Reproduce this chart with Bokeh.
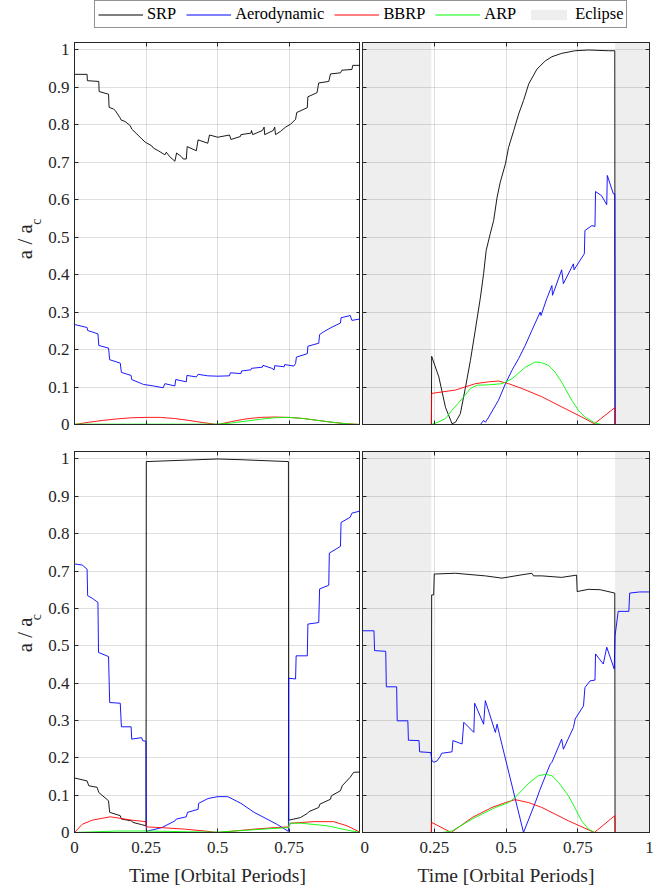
import numpy as np
from bokeh.plotting import figure
from bokeh.models import (Range1d, LinearAxis, FixedTicker, Grid,
                          Legend, LegendItem)
from bokeh.core.properties import value
from bokeh.layouts import column, row
from bokeh.embed import file_html
from bokeh.resources import INLINE

FONT = "Liberation Serif"
INK = "#262626"

# ---- axes ----
Y_TICKS = [0, 0.1, 0.2, 0.3, 0.4, 0.5, 0.6, 0.7, 0.8, 0.9, 1]
Y_TICK_LABELS = ["0", "0.1", "0.2", "0.3", "0.4", "0.5", "0.6", "0.7", "0.8", "0.9", "1"]
X_TICKS = [0, 0.25, 0.5, 0.75, 1]
X_TICK_LABELS = ["0", "0.25", "0.5", "0.75", "1"]
X_TICK_LABELS_LEFT = ["0", "0.25", "0.5", "0.75", ""]
X_LABEL = "Time [Orbital Periods]"
Y_LABEL = "a / a"
Y_LABEL_SUB = "c"

SERIES = ["SRP", "Aerodynamic", "BBRP", "ARP"]
COLORS = ["#000000", "#0000ff", "#ff0000", "#00ff00"]

# eclipse intervals (orbital periods)
ECLIPSE_RIGHT = [[0.0, 0.24], [0.88, 1.0]]

# ---- panel A (top left): [time, a/a_c] ----
A_SRP = [
    [0.000, 0.935], [0.044, 0.935], [0.045, 0.918], [0.085, 0.916], [0.086, 0.889],
    [0.119, 0.882], [0.121, 0.847], [0.137, 0.842], [0.143, 0.838], [0.160, 0.818],
    [0.163, 0.813], [0.177, 0.809], [0.195, 0.798], [0.200, 0.789], [0.247, 0.754],
    [0.270, 0.744], [0.276, 0.738], [0.293, 0.731], [0.316, 0.720], [0.321, 0.727],
    [0.333, 0.715], [0.351, 0.703], [0.357, 0.725], [0.374, 0.715], [0.380, 0.709],
    [0.391, 0.709], [0.394, 0.742], [0.426, 0.731], [0.432, 0.760], [0.466, 0.751],
    [0.472, 0.773], [0.501, 0.767], [0.542, 0.773], [0.547, 0.761], [0.580, 0.769],
    [0.582, 0.774], [0.617, 0.778], [0.619, 0.785], [0.623, 0.774], [0.657, 0.785],
    [0.663, 0.794], [0.665, 0.774], [0.695, 0.785], [0.700, 0.794], [0.703, 0.774],
    [0.721, 0.783], [0.738, 0.794], [0.756, 0.802], [0.773, 0.815], [0.777, 0.833],
    [0.814, 0.846], [0.816, 0.875], [0.848, 0.886], [0.854, 0.912], [0.889, 0.916],
    [0.895, 0.936], [0.930, 0.939], [0.935, 0.946], [0.970, 0.948], [0.973, 0.959],
    [1.000, 0.959],
]
A_AERO = [
    [0.000, 0.267], [0.044, 0.259], [0.046, 0.251], [0.082, 0.242], [0.085, 0.211],
    [0.119, 0.204], [0.123, 0.173], [0.160, 0.164], [0.164, 0.139], [0.198, 0.131],
    [0.200, 0.120], [0.235, 0.109], [0.241, 0.107], [0.276, 0.103], [0.310, 0.098],
    [0.316, 0.109], [0.351, 0.103], [0.354, 0.120], [0.391, 0.114], [0.393, 0.131],
    [0.426, 0.127], [0.432, 0.134], [0.466, 0.130], [0.501, 0.129], [0.542, 0.130],
    [0.545, 0.138], [0.582, 0.136], [0.584, 0.143], [0.617, 0.146], [0.619, 0.150],
    [0.657, 0.153], [0.659, 0.158], [0.690, 0.150], [0.698, 0.146], [0.700, 0.157],
    [0.733, 0.154], [0.735, 0.160], [0.767, 0.156], [0.773, 0.163], [0.776, 0.180],
    [0.814, 0.189], [0.816, 0.209], [0.854, 0.217], [0.857, 0.240], [0.870, 0.247],
    [0.895, 0.258], [0.930, 0.271], [0.932, 0.285], [0.964, 0.291], [0.970, 0.278],
    [1.000, 0.282],
]
A_BBRP = [
    [0.00, 0.000], [0.05, 0.006], [0.10, 0.011], [0.15, 0.015], [0.20, 0.018],
    [0.25, 0.019], [0.30, 0.019], [0.35, 0.016], [0.40, 0.011], [0.45, 0.005],
    [0.50, 0.000], [0.55, 0.008], [0.60, 0.015], [0.65, 0.019], [0.70, 0.020],
    [0.75, 0.019], [0.80, 0.016], [0.85, 0.011], [0.90, 0.006], [0.95, 0.002],
    [1.00, 0.000],
]
A_ARP = [
    [0.00, 0.001], [0.25, 0.001], [0.50, 0.001], [0.55, 0.004], [0.60, 0.009],
    [0.65, 0.014], [0.70, 0.018], [0.75, 0.019], [0.80, 0.016], [0.85, 0.011],
    [0.90, 0.006], [0.95, 0.002], [1.00, 0.000],
]

# ---- panel B (top right) ----
B_SRP = [
    [0.000, 0.000], [0.240, 0.000], [0.241, 0.182], [0.266, 0.127], [0.289, 0.046],
    [0.312, 0.002], [0.324, 0.006], [0.341, 0.029], [0.359, 0.100], [0.376, 0.171],
    [0.393, 0.252], [0.411, 0.340], [0.422, 0.403], [0.431, 0.465], [0.445, 0.509],
    [0.457, 0.545], [0.469, 0.607], [0.480, 0.647], [0.498, 0.696], [0.509, 0.740],
    [0.527, 0.785], [0.544, 0.829], [0.561, 0.865], [0.579, 0.909], [0.608, 0.949],
    [0.637, 0.971], [0.660, 0.982], [0.694, 0.991], [0.741, 0.998], [0.787, 1.000],
    [0.856, 0.998], [0.879, 0.998], [0.880, 0.000], [1.000, 0.000],
]
B_AERO = [
    [0.000, 0.000], [0.411, 0.000], [0.422, 0.011], [0.428, 0.006], [0.440, 0.020],
    [0.474, 0.065], [0.498, 0.109], [0.521, 0.145], [0.544, 0.176], [0.567, 0.211],
    [0.590, 0.251], [0.619, 0.300], [0.622, 0.291], [0.642, 0.336], [0.660, 0.371],
    [0.662, 0.345], [0.694, 0.413], [0.700, 0.376], [0.735, 0.429], [0.737, 0.413],
    [0.773, 0.456], [0.775, 0.518], [0.799, 0.531], [0.810, 0.529], [0.812, 0.622],
    [0.833, 0.611], [0.851, 0.587], [0.853, 0.665], [0.874, 0.616], [0.879, 0.616],
    [0.880, 0.000], [1.000, 0.000],
]
B_BBRP = [
    [0.000, 0.000], [0.240, 0.000], [0.241, 0.083], [0.324, 0.092], [0.393, 0.109],
    [0.440, 0.114], [0.474, 0.116], [0.509, 0.109], [0.556, 0.096], [0.625, 0.074],
    [0.694, 0.047], [0.764, 0.020], [0.808, 0.002], [0.879, 0.045], [0.880, 0.000],
    [1.000, 0.000],
]
B_ARP = [
    [0.000, 0.000], [0.240, 0.000], [0.266, 0.007], [0.289, 0.016], [0.312, 0.038],
    [0.353, 0.074], [0.376, 0.096], [0.399, 0.105], [0.440, 0.106], [0.486, 0.109],
    [0.521, 0.122], [0.567, 0.153], [0.602, 0.167], [0.625, 0.165], [0.648, 0.158],
    [0.671, 0.140], [0.694, 0.113], [0.729, 0.065], [0.752, 0.038], [0.775, 0.020],
    [0.810, 0.004], [0.833, 0.000], [1.000, 0.000],
]

# ---- panel C (bottom left) ----
C_SRP = [
    [0.000, 0.146], [0.044, 0.138], [0.050, 0.125], [0.079, 0.121], [0.085, 0.107],
    [0.119, 0.085], [0.123, 0.054], [0.160, 0.045], [0.164, 0.036], [0.200, 0.031],
    [0.204, 0.027], [0.235, 0.021], [0.250, 0.018], [0.251, 0.993], [0.501, 1.000],
    [0.582, 0.998], [0.748, 0.993], [0.749, 0.033], [0.767, 0.036], [0.790, 0.040],
    [0.814, 0.051], [0.820, 0.056], [0.854, 0.067], [0.858, 0.076], [0.895, 0.089],
    [0.898, 0.098], [0.930, 0.112], [0.936, 0.125], [0.964, 0.148], [0.976, 0.161],
    [1.000, 0.162],
]
C_AERO = [
    [0.000, 0.719], [0.027, 0.716], [0.044, 0.705], [0.046, 0.634], [0.062, 0.627],
    [0.082, 0.616], [0.084, 0.482], [0.119, 0.471], [0.123, 0.348], [0.160, 0.346],
    [0.164, 0.283], [0.198, 0.283], [0.200, 0.250], [0.235, 0.254], [0.238, 0.246],
    [0.250, 0.244], [0.251, 0.003], [0.305, 0.013], [0.351, 0.031], [0.356, 0.036],
    [0.391, 0.042], [0.395, 0.054], [0.432, 0.062], [0.434, 0.078], [0.467, 0.091],
    [0.501, 0.096], [0.536, 0.096], [0.582, 0.078], [0.628, 0.054], [0.663, 0.040],
    [0.710, 0.021], [0.748, 0.003], [0.749, 0.413], [0.773, 0.411], [0.775, 0.473],
    [0.814, 0.473], [0.816, 0.558], [0.854, 0.562], [0.857, 0.652], [0.889, 0.662],
    [0.891, 0.748], [0.930, 0.766], [0.932, 0.830], [0.964, 0.844], [0.970, 0.855],
    [1.000, 0.861],
]
C_BBRP = [
    [0.000, 0.000], [0.027, 0.022], [0.062, 0.033], [0.096, 0.038], [0.125, 0.042],
    [0.160, 0.038], [0.200, 0.033], [0.250, 0.029], [0.251, 0.015], [0.305, 0.013],
    [0.385, 0.009], [0.455, 0.004], [0.501, 0.000], [0.559, 0.004], [0.628, 0.009],
    [0.698, 0.013], [0.748, 0.015], [0.756, 0.025], [0.837, 0.029], [0.906, 0.029],
    [0.953, 0.018], [1.000, 0.000],
]
C_ARP = [
    [0.000, 0.000], [0.150, 0.004], [0.250, 0.004], [0.400, 0.002], [0.501, 0.001],
    [0.600, 0.006], [0.700, 0.011], [0.748, 0.013], [0.752, 0.025], [0.790, 0.025],
    [0.883, 0.018], [0.950, 0.007], [1.000, 0.000],
]

# ---- panel D (bottom right) ----
D_SRP = [
    [0.000, 0.000], [0.240, 0.000], [0.241, 0.636], [0.248, 0.636], [0.250, 0.692],
    [0.324, 0.694], [0.428, 0.687], [0.486, 0.681], [0.556, 0.690], [0.590, 0.694],
    [0.596, 0.687], [0.625, 0.687], [0.694, 0.683], [0.746, 0.689], [0.748, 0.645],
    [0.787, 0.651], [0.828, 0.650], [0.879, 0.641], [0.880, 0.000], [1.000, 0.000],
]
D_AERO = [
    [0.000, 0.540], [0.040, 0.540], [0.042, 0.487], [0.081, 0.485], [0.083, 0.390],
    [0.119, 0.390], [0.121, 0.299], [0.158, 0.299], [0.160, 0.247], [0.197, 0.246],
    [0.199, 0.216], [0.238, 0.214], [0.242, 0.192], [0.249, 0.188], [0.260, 0.192],
    [0.272, 0.205], [0.275, 0.212], [0.312, 0.216], [0.315, 0.246], [0.347, 0.237],
    [0.353, 0.295], [0.388, 0.268], [0.391, 0.346], [0.422, 0.290], [0.428, 0.353],
    [0.463, 0.268], [0.469, 0.290], [0.477, 0.263], [0.561, 0.000], [0.602, 0.080],
    [0.619, 0.116], [0.654, 0.183], [0.660, 0.188], [0.694, 0.250], [0.700, 0.223],
    [0.735, 0.281], [0.741, 0.304], [0.770, 0.339], [0.775, 0.388], [0.793, 0.406],
    [0.810, 0.408], [0.812, 0.478], [0.839, 0.451], [0.851, 0.496], [0.877, 0.438],
    [0.880, 0.527], [0.891, 0.592], [0.928, 0.592], [0.931, 0.641], [0.966, 0.644],
    [1.000, 0.644],
]
D_BBRP = [
    [0.000, 0.000], [0.240, 0.000], [0.241, 0.027], [0.309, 0.000], [0.382, 0.040],
    [0.451, 0.067], [0.498, 0.080], [0.532, 0.088], [0.579, 0.080], [0.625, 0.067],
    [0.718, 0.031], [0.808, 0.000], [0.879, 0.045], [0.880, 0.000], [1.000, 0.000],
]
D_ARP = [
    [0.000, 0.000], [0.240, 0.000], [0.278, 0.000], [0.312, 0.004], [0.382, 0.036],
    [0.463, 0.067], [0.509, 0.080], [0.532, 0.094], [0.579, 0.132], [0.613, 0.152],
    [0.637, 0.156], [0.660, 0.152], [0.683, 0.134], [0.718, 0.098], [0.764, 0.031],
    [0.787, 0.009], [0.810, 0.000], [1.000, 0.000],
]


def style_axis(ax, ticks, labels, show):
    ax.ticker = FixedTicker(ticks=ticks)
    ax.axis_line_color = INK
    ax.major_tick_line_color = INK
    ax.major_tick_in = 4
    ax.major_tick_out = 0
    ax.minor_tick_line_color = None
    ax.major_label_text_font = FONT
    ax.major_label_text_color = INK
    if show:
        ax.major_label_overrides = dict(zip(ticks, labels))
        ax.major_label_text_font_size = "17px"
    else:
        ax.major_label_overrides = {t: "" for t in ticks}
        ax.major_label_text_font_size = "0px"
        ax.major_label_standoff = 0


def make_panel(series, width, height, borders, left_labels, bottom_labels,
               eclipse=None):
    bl, br, bt, bb = borders
    p = figure(width=width, height=height, x_range=Range1d(0, 1), y_range=Range1d(0, 1.02),
               x_axis_type=None, y_axis_type=None, output_backend="svg",
               toolbar_location=None, min_border_left=bl, min_border_right=br,
               min_border_top=bt, min_border_bottom=bb)
    p.outline_line_color = INK
    p.background_fill_color = "white"
    p.border_fill_color = "white"

    p.add_layout(Grid(dimension=0, ticker=FixedTicker(ticks=X_TICKS),
                      grid_line_color=INK, grid_line_alpha=0.15))
    p.add_layout(Grid(dimension=1, ticker=FixedTicker(ticks=Y_TICKS),
                      grid_line_color=INK, grid_line_alpha=0.15))

    below = LinearAxis()
    style_axis(below, X_TICKS, bottom_labels, bottom_labels is not None)
    if bottom_labels is not None:
        below.major_label_standoff = 9
        below.axis_label = X_LABEL
        below.axis_label_text_font = FONT
        below.axis_label_text_font_size = "19.5px"
        below.axis_label_text_font_style = "normal"
        below.axis_label_text_color = INK
        below.axis_label_standoff = 9
    p.add_layout(below, "below")
    above = LinearAxis()
    style_axis(above, X_TICKS, None, False)
    p.add_layout(above, "above")
    left = LinearAxis()
    style_axis(left, Y_TICKS, Y_TICK_LABELS, left_labels)
    if left_labels:
        left.major_label_standoff = 5
    p.add_layout(left, "left")
    right = LinearAxis()
    style_axis(right, Y_TICKS, None, False)
    p.add_layout(right, "right")

    if eclipse:
        p.quad(left=[e[0] for e in eclipse], right=[e[1] for e in eclipse],
               bottom=-0.1, top=1.2, fill_color="black", fill_alpha=0.065,
               line_color=None)

    for data, color in zip(series, COLORS):
        p.line([d[0] for d in data], [d[1] for d in data],
               line_color=color, line_width=0.9)
    return p


STRIP_W = 45


def make_ylabel(height, y_main, y_sub):
    """Narrow strip holding the rotated y title; coordinates are pixels."""
    s = figure(width=STRIP_W, height=height, x_range=Range1d(0, STRIP_W),
               y_range=Range1d(0, height), x_axis_type=None, y_axis_type=None,
               output_backend="svg", toolbar_location=None, min_border=0)
    s.outline_line_color = None
    s.text(x=[24.5], y=[y_main], text=[Y_LABEL], angle=np.pi / 2,
           text_font=value(FONT), text_font_size=value("21px"), text_color=INK,
           text_align="center", text_baseline="alphabetic")
    s.text(x=[35.5], y=[y_sub], text=[Y_LABEL_SUB], angle=np.pi / 2,
           text_font=value(FONT), text_font_size=value("14px"), text_color=INK,
           text_align="center", text_baseline="middle")
    return s


tl = make_panel([A_SRP, A_AERO, A_BBRP, A_ARP], 360 - STRIP_W, 399,
                (73 - STRIP_W, 0, 4, 13), True, None)
tr = make_panel([B_SRP, B_AERO, B_BBRP, B_ARP], 300, 399, (2, 11, 4, 13),
                False, None, eclipse=ECLIPSE_RIGHT)
bl = make_panel([C_SRP, C_AERO, C_BBRP, C_ARP], 360 - STRIP_W, 452,
                (73 - STRIP_W, 0, 14, 57), True, X_TICK_LABELS_LEFT)
br = make_panel([D_SRP, D_AERO, D_BBRP, D_ARP], 300, 452, (2, 11, 14, 57),
                False, X_TICK_LABELS, eclipse=ECLIPSE_RIGHT)
yl_top = make_ylabel(399, 191.0, 212.0)
yl_bot = make_ylabel(452, 234.5, 255.5)

# legend strip
lg = figure(width=660, height=38, x_range=Range1d(0, 1), y_range=Range1d(0, 1),
            x_axis_type=None, y_axis_type=None, output_backend="svg",
            toolbar_location=None, min_border=0)
lg.outline_line_color = None
items = []
for name, color in zip(SERIES, COLORS):
    r = lg.line([5, 6], [5, 6], line_color=color, line_width=1)
    items.append(LegendItem(label=name, renderers=[r]))
ecl = lg.quad(left=[5], right=[6], bottom=[5], top=[6], fill_color="black",
              fill_alpha=0.065, line_color=None)
items.append(LegendItem(label="Eclipse", renderers=[ecl]))
legend = Legend(items=items, orientation="horizontal", location=(94, 10),
                border_line_color=INK, border_line_width=1,
                background_fill_color="white", background_fill_alpha=1,
                label_text_font=FONT, label_text_font_size="16.4px",
                label_text_color="black", glyph_width=45, glyph_height=13,
                label_standoff=4, spacing=10, padding=3, label_height=18,
                margin=0)
lg.add_layout(legend)

layout = column(lg, row(yl_top, tl, tr), row(yl_bot, bl, br))
open("out.html", "w").write(file_html(layout, INLINE))
